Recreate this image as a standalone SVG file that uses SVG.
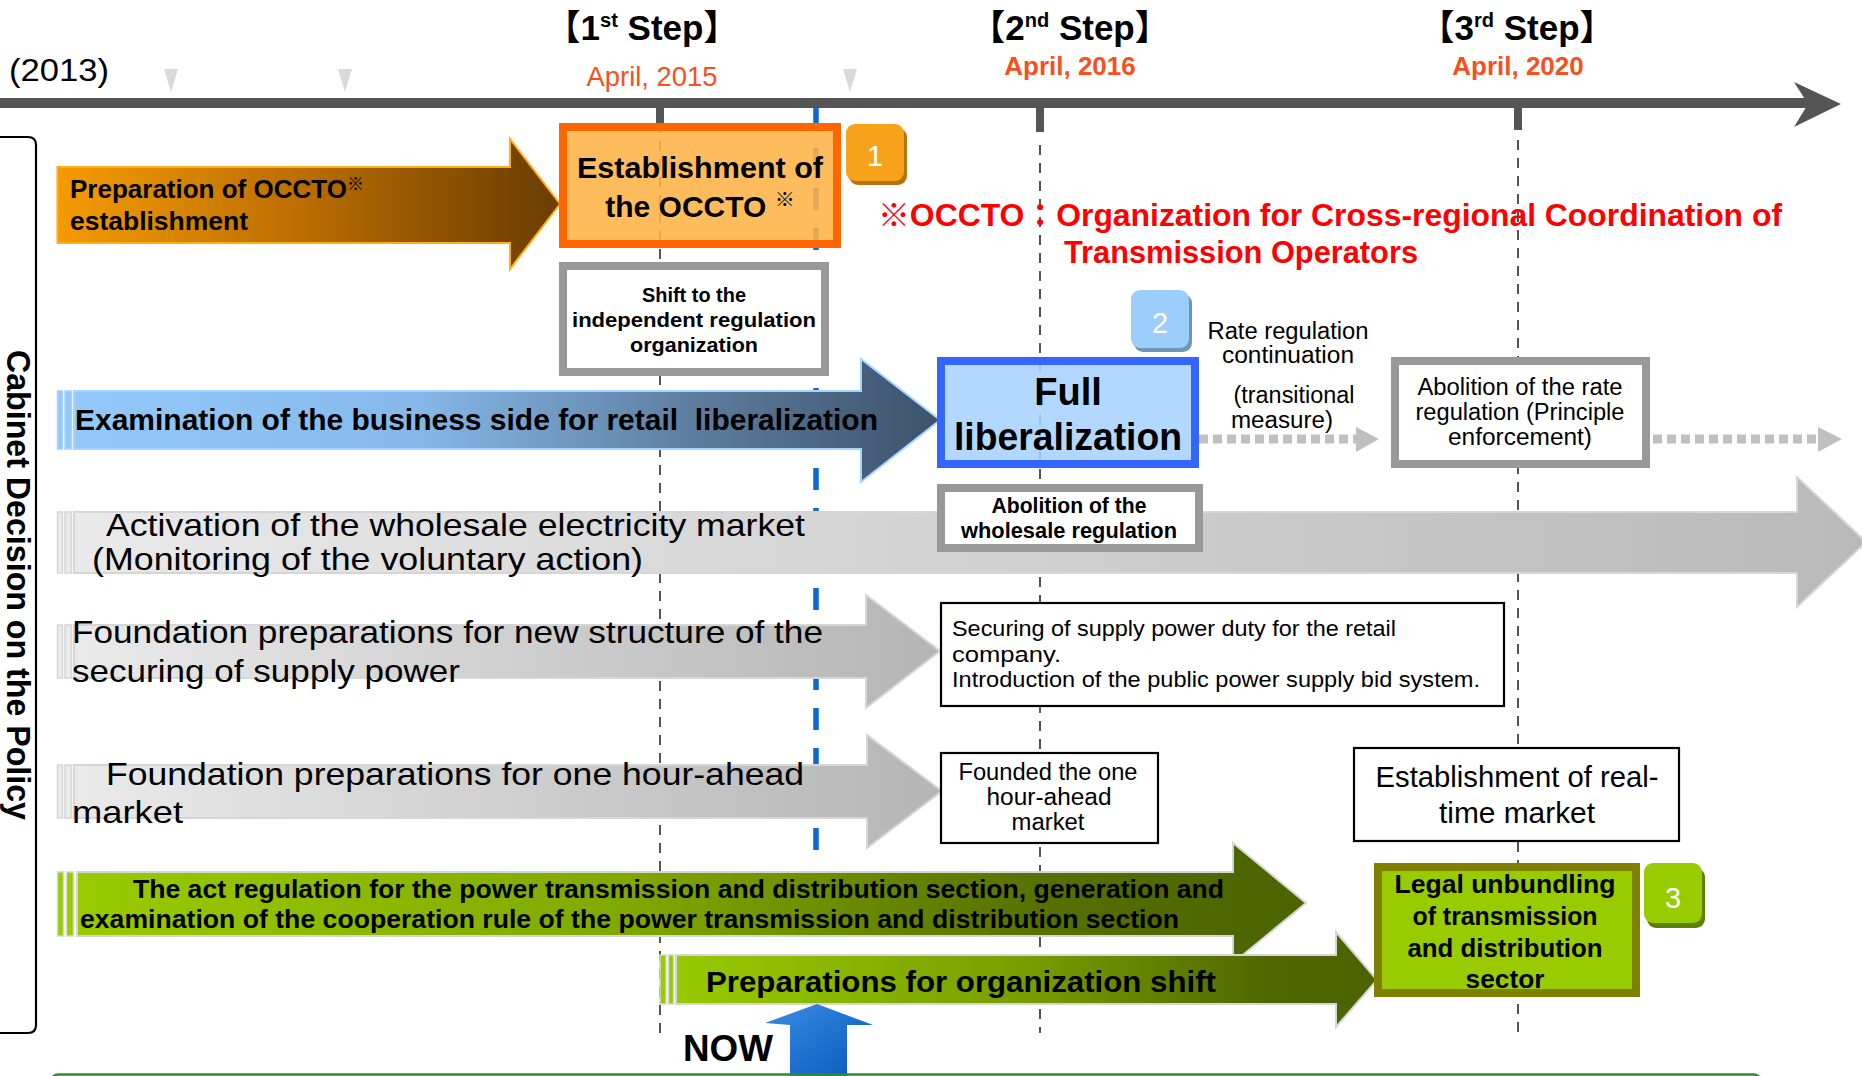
<svg xmlns="http://www.w3.org/2000/svg" width="1862" height="1076" viewBox="0 0 1862 1076">
<defs>
<linearGradient id="gOrange" gradientUnits="userSpaceOnUse" x1="57" y1="0" x2="560" y2="0">
<stop offset="0" stop-color="#f59b00"/><stop offset="0.5" stop-color="#b96c00"/><stop offset="0.88" stop-color="#7a4700"/><stop offset="1" stop-color="#6b3f00"/>
</linearGradient>
<linearGradient id="gBlue" gradientUnits="userSpaceOnUse" x1="57" y1="0" x2="940" y2="0">
<stop offset="0" stop-color="#93cafa"/><stop offset="0.4" stop-color="#86b9ea"/><stop offset="0.75" stop-color="#5a7898"/><stop offset="1" stop-color="#3c526b"/>
</linearGradient>
<linearGradient id="gGrayL" gradientUnits="userSpaceOnUse" x1="57" y1="0" x2="1866" y2="0">
<stop offset="0" stop-color="#eaeaea"/><stop offset="1" stop-color="#b9b9b9"/>
</linearGradient>
<linearGradient id="gGray" gradientUnits="userSpaceOnUse" x1="57" y1="0" x2="940" y2="0">
<stop offset="0" stop-color="#ebebeb"/><stop offset="1" stop-color="#b5b5b5"/>
</linearGradient>
<linearGradient id="gGreen1" gradientUnits="userSpaceOnUse" x1="57" y1="0" x2="1306" y2="0">
<stop offset="0" stop-color="#99cc00"/><stop offset="0.45" stop-color="#80a900"/><stop offset="0.8" stop-color="#556f00"/><stop offset="1" stop-color="#4b6300"/>
</linearGradient>
<linearGradient id="gGreen2" gradientUnits="userSpaceOnUse" x1="660" y1="0" x2="1377" y2="0">
<stop offset="0" stop-color="#99cc00"/><stop offset="0.5" stop-color="#789f00"/><stop offset="0.85" stop-color="#4f6700"/><stop offset="1" stop-color="#4b6300"/>
</linearGradient>
<linearGradient id="gNow" x1="0" y1="0" x2="1" y2="1">
<stop offset="0" stop-color="#3a8de6"/><stop offset="1" stop-color="#0757b8"/>
</linearGradient>
</defs>
<style>
text{font-family:"Liberation Sans","Noto Sans CJK JP",sans-serif;fill:#000}
.b{font-weight:bold}
.c{text-anchor:middle}
.guide{stroke:#555;stroke-width:2;stroke-dasharray:10 8;fill:none}
.nowline{stroke:#0f68cf;stroke-width:5.5;stroke-dasharray:22 18;fill:none}
.dot{stroke:#c0c0c0;stroke-width:9;stroke-dasharray:9 5;fill:none}
.dothead{fill:#c0c0c0}
.gbox{fill:#fff;stroke:#999;stroke-width:8}
.kbox{fill:#fff;stroke:#000;stroke-width:2.2}
.red{fill:#f4511e}
.tick{fill:#555}
.tri{fill:#d9d9d9}
.badgeT{fill:#fff;font-size:29px;text-anchor:middle}
</style>

<g id="timeline">
<rect x="0" y="98" width="1810" height="10" fill="#555"/>
<polygon points="1794,82 1841,104 1794,127 1808,104" fill="#555"/>
<rect class="tick" x="656" y="106" width="8" height="17"/>
<rect class="tick" x="1036" y="106" width="8" height="26"/>
<rect class="tick" x="1514" y="106" width="8" height="24"/>
<polygon class="tri" points="164,69 178,69 171,92"/>
<polygon class="tri" points="338,69 352,69 345,92"/>
<polygon class="tri" points="843,69 857,69 850,92"/>
<text x="9" y="81" font-size="31" fill="#222" textLength="100" lengthAdjust="spacingAndGlyphs">(2013)</text>
<text class="b c" x="642" y="40" font-size="35">【1<tspan font-size="20" dy="-13">st</tspan><tspan dy="13"> Step】</tspan></text>
<text class="b c" x="1070" y="40" font-size="35">【2<tspan font-size="20" dy="-13">nd</tspan><tspan dy="13"> Step】</tspan></text>
<text class="b c" x="1517" y="40" font-size="35">【3<tspan font-size="20" dy="-13">rd</tspan><tspan dy="13"> Step】</tspan></text>
<text class="c red" x="652" y="86" font-size="27" textLength="131" lengthAdjust="spacingAndGlyphs">April, 2015</text>
<text class="b c red" x="1070" y="75" font-size="26">April, 2016</text>
<text class="b c red" x="1518" y="75" font-size="26">April, 2020</text>
</g>

<g id="policy-bracket">
<path d="M0,137 H28 Q36,137 36,145 V1025 Q36,1033 28,1033 H0" fill="none" stroke="#000" stroke-width="2.2"/>
<text class="b" font-size="34" transform="translate(7,350) rotate(90)" textLength="470" lengthAdjust="spacingAndGlyphs">Cabinet Decision on the Policy</text>
</g>

<g id="connectors">
<line class="guide" x1="660" y1="123" x2="660" y2="1033"/>
<line class="guide" x1="1040" y1="145" x2="1040" y2="1033"/>
<line class="guide" x1="1518" y1="140" x2="1518" y2="1033"/>
<line class="nowline" x1="816" y1="108" x2="816" y2="853"/>
<line class="dot" x1="1199" y1="439" x2="1356" y2="439"/>
<polygon class="dothead" points="1356,427 1379,439 1356,452"/>
<line class="dot" x1="1653" y1="439" x2="1818" y2="439"/>
<polygon class="dothead" points="1818,427 1842,439 1818,452"/>
</g>

<g id="prep-occto">
<path d="M57.5,167 H510 V139 L560,204 L510,269 V243 H57.5 Z" fill="url(#gOrange)" stroke="#ffae1a" stroke-width="2"/>
<text class="b" x="70" y="198" font-size="26">Preparation of OCCTO<tspan font-size="17" dy="-8">※</tspan></text>
<text class="b" x="70" y="230" font-size="26" textLength="178" lengthAdjust="spacingAndGlyphs">establishment</text>
</g>

<g id="occto-box">
<rect x="563" y="127" width="274" height="117" fill="#ffb347" fill-opacity="0.88" stroke="#ff6600" stroke-width="8"/>
<text class="b c" x="700" y="178" font-size="30" textLength="246" lengthAdjust="spacingAndGlyphs">Establishment of</text>
<text class="b c" x="700" y="217" font-size="30">the OCCTO <tspan font-size="20" dy="-10">※</tspan></text>
</g>

<g id="badge1">
<rect x="849" y="128" width="58" height="57" rx="9" fill="#b8730c"/>
<rect x="846" y="124" width="58" height="57" rx="9" fill="#f7a21b"/>
<text class="badgeT" x="875" y="166">1</text>
</g>

<g id="occto-note">
<text class="b" x="878" y="226" font-size="31" style="fill:#ff0000" textLength="904" lengthAdjust="spacingAndGlyphs">※OCCTO：Organization for Cross-regional Coordination of</text>
<text class="b" x="1064" y="263" font-size="31" style="fill:#ff0000" textLength="354" lengthAdjust="spacingAndGlyphs">Transmission Operators</text>
</g>

<g id="shift-box">
<rect class="gbox" x="563" y="266" width="262" height="106"/>
<text class="b c" x="694" y="302" font-size="21" textLength="104" lengthAdjust="spacingAndGlyphs">Shift to the</text>
<text class="b c" x="694" y="327" font-size="21" textLength="244" lengthAdjust="spacingAndGlyphs">independent regulation</text>
<text class="b c" x="694" y="352" font-size="21" textLength="128" lengthAdjust="spacingAndGlyphs">organization</text>
</g>

<g id="retail-arrow">
<rect x="57.5" y="391" width="5" height="58" fill="url(#gBlue)" stroke="#a6d3ff" stroke-width="1.5"/>
<rect x="65" y="391" width="6.5" height="58" fill="url(#gBlue)" stroke="#a6d3ff" stroke-width="1.5"/>
<path d="M74,391 H861 V359 L940,420 L861,482 V449 H74 Z" fill="url(#gBlue)" stroke="#a6d3ff" stroke-width="2"/>
<text class="b" x="75" y="430" font-size="30" xml:space="preserve" textLength="803" lengthAdjust="spacingAndGlyphs">Examination of the business side for retail  liberalization</text>
</g>

<g id="full-lib">
<rect x="941" y="361" width="254" height="103" fill="#a9d3ff" fill-opacity="0.88" stroke="#3366ff" stroke-width="8"/>
<text class="b c" x="1068" y="405" font-size="38">Full</text>
<text class="b c" x="1068" y="450" font-size="38" textLength="228" lengthAdjust="spacingAndGlyphs">liberalization</text>
</g>

<g id="badge2">
<rect x="1134" y="294" width="58" height="58" rx="9" fill="#6f95bb"/>
<rect x="1131" y="290" width="58" height="58" rx="9" fill="#9dcdfb"/>
<text class="badgeT" x="1160" y="333">2</text>
</g>

<g id="rate-cont">
<text class="c" x="1288" y="339" font-size="23" textLength="161" lengthAdjust="spacingAndGlyphs">Rate regulation</text>
<text class="c" x="1288" y="363" font-size="23" textLength="132" lengthAdjust="spacingAndGlyphs">continuation</text>
<text class="c" x="1294" y="403" font-size="23" textLength="121" lengthAdjust="spacingAndGlyphs">(transitional</text>
<text class="c" x="1282" y="428" font-size="23" textLength="102" lengthAdjust="spacingAndGlyphs">measure)</text>
</g>

<g id="rate-abolition">
<rect class="gbox" x="1395" y="361" width="251" height="103"/>
<text class="c" x="1520" y="395" font-size="23" textLength="205" lengthAdjust="spacingAndGlyphs">Abolition of the rate</text>
<text class="c" x="1520" y="420" font-size="23" textLength="209" lengthAdjust="spacingAndGlyphs">regulation (Principle</text>
<text class="c" x="1520" y="445" font-size="23" textLength="144" lengthAdjust="spacingAndGlyphs">enforcement)</text>
</g>

<g id="wholesale-arrow">
<rect x="57.5" y="512" width="5" height="61" fill="url(#gGrayL)" stroke="#d6d6d6" stroke-width="1.5"/>
<rect x="65" y="512" width="6.5" height="61" fill="url(#gGrayL)" stroke="#d6d6d6" stroke-width="1.5"/>
<path d="M74,512 H1797 V477 L1866,542 L1797,607 V573 H74 Z" fill="url(#gGrayL)" stroke="#d6d6d6" stroke-width="2"/>
<text x="106" y="536" font-size="32" fill="#222" textLength="699" lengthAdjust="spacingAndGlyphs">Activation of the wholesale electricity market</text>
<text x="92" y="570" font-size="32" fill="#222" textLength="551" lengthAdjust="spacingAndGlyphs">(Monitoring of the voluntary action)</text>
</g>

<g id="wholesale-abolition">
<rect class="gbox" x="941" y="488" width="258" height="60"/>
<text class="b c" x="1069" y="513" font-size="21.5" textLength="155" lengthAdjust="spacingAndGlyphs">Abolition of the</text>
<text class="b c" x="1069" y="538" font-size="21.5" textLength="216" lengthAdjust="spacingAndGlyphs">wholesale regulation</text>
</g>

<g id="supply-arrow">
<rect x="57.5" y="625" width="5" height="53" fill="url(#gGray)" stroke="#d6d6d6" stroke-width="1.5"/>
<rect x="65" y="625" width="6.5" height="53" fill="url(#gGray)" stroke="#d6d6d6" stroke-width="1.5"/>
<path d="M74,625 H866 V595 L940,651 L866,708 V678 H74 Z" fill="url(#gGray)" stroke="#d6d6d6" stroke-width="2"/>
<text x="72" y="643" font-size="32" fill="#222" textLength="751" lengthAdjust="spacingAndGlyphs">Foundation preparations for new structure of the</text>
<text x="72" y="682" font-size="32" fill="#222" textLength="388" lengthAdjust="spacingAndGlyphs">securing of supply power</text>
</g>

<g id="supply-duty">
<rect class="kbox" x="941" y="603" width="563" height="103"/>
<text x="952" y="636" font-size="22" fill="#222" textLength="444" lengthAdjust="spacingAndGlyphs">Securing of supply power duty for the retail</text>
<text x="952" y="662" font-size="22" fill="#222" textLength="109" lengthAdjust="spacingAndGlyphs">company.</text>
<text x="952" y="687" font-size="22" fill="#222" textLength="528" lengthAdjust="spacingAndGlyphs">Introduction of the public power supply bid system.</text>
</g>

<g id="hour-arrow">
<rect x="57.5" y="765" width="5" height="53" fill="url(#gGray)" stroke="#d6d6d6" stroke-width="1.5"/>
<rect x="65" y="765" width="6.5" height="53" fill="url(#gGray)" stroke="#d6d6d6" stroke-width="1.5"/>
<path d="M74,765 H867 V735 L942,791 L867,848 V818 H74 Z" fill="url(#gGray)" stroke="#d6d6d6" stroke-width="2"/>
<text x="106" y="785" font-size="32" fill="#222" textLength="698" lengthAdjust="spacingAndGlyphs">Foundation preparations for one hour-ahead</text>
<text x="72" y="823" font-size="32" fill="#222" textLength="111" lengthAdjust="spacingAndGlyphs">market</text>
</g>

<g id="hour-market">
<rect class="kbox" x="941" y="753" width="217" height="90"/>
<text class="c" x="1048" y="780" font-size="23" fill="#222" textLength="179" lengthAdjust="spacingAndGlyphs">Founded the one</text>
<text class="c" x="1049" y="805" font-size="23" fill="#222" textLength="125" lengthAdjust="spacingAndGlyphs">hour-ahead</text>
<text class="c" x="1048" y="830" font-size="23" fill="#222" textLength="73" lengthAdjust="spacingAndGlyphs">market</text>
</g>

<g id="realtime-market">
<rect class="kbox" x="1354" y="748" width="325" height="93"/>
<text class="c" x="1517" y="787" font-size="29" textLength="283" lengthAdjust="spacingAndGlyphs">Establishment of real-</text>
<text class="c" x="1517" y="823" font-size="29" textLength="156" lengthAdjust="spacingAndGlyphs">time market</text>
</g>

<g id="act-arrow">
<rect x="57.5" y="872" width="6" height="64" fill="url(#gGreen1)" stroke="#d6d6d6" stroke-width="1.5"/>
<rect x="66.5" y="872" width="7" height="64" fill="url(#gGreen1)" stroke="#d6d6d6" stroke-width="1.5"/>
<path d="M77,872 H1233 V843 L1306,903 L1233,963 V936 H77 Z" fill="url(#gGreen1)" stroke="#d6d6d6" stroke-width="2"/>
<text class="b" x="133" y="898" font-size="26" textLength="1091" lengthAdjust="spacingAndGlyphs">The act regulation for the power transmission and distribution section, generation and</text>
<text class="b" x="80" y="928" font-size="26" textLength="1099" lengthAdjust="spacingAndGlyphs">examination of the cooperation rule of the power transmission and distribution section</text>
</g>

<g id="org-shift-arrow">
<rect x="660" y="955" width="6" height="49" fill="url(#gGreen2)" stroke="#d6d6d6" stroke-width="1.5"/>
<rect x="668.5" y="955" width="5" height="49" fill="url(#gGreen2)" stroke="#d6d6d6" stroke-width="1.5"/>
<path d="M676,955 H1336 V932 L1377,980 L1336,1027 V1004 H676 Z" fill="url(#gGreen2)" stroke="#d6d6d6" stroke-width="2"/>
<text class="b" x="706" y="992" font-size="30" textLength="510" lengthAdjust="spacingAndGlyphs">Preparations for organization shift</text>
</g>

<g id="legal-unbundling">
<rect x="1378" y="867" width="258" height="126" fill="#99cc00" stroke="#808000" stroke-width="8"/>
<text class="b c" x="1505" y="893" font-size="26" textLength="221" lengthAdjust="spacingAndGlyphs">Legal unbundling</text>
<text class="b c" x="1505" y="925" font-size="26" textLength="185" lengthAdjust="spacingAndGlyphs">of transmission</text>
<text class="b c" x="1505" y="957" font-size="26" textLength="195" lengthAdjust="spacingAndGlyphs">and distribution</text>
<text class="b c" x="1505" y="988" font-size="26" textLength="79" lengthAdjust="spacingAndGlyphs">sector</text>
</g>

<g id="badge3">
<rect x="1647" y="868" width="58" height="60" rx="9" fill="#5f7f00"/>
<rect x="1644" y="863" width="58" height="60" rx="9" fill="#99cc00"/>
<text class="badgeT" x="1673" y="908">3</text>
</g>

<g id="now-marker">
<polygon points="817,1004 873,1025 847,1025 847,1080 790,1080 790,1025 765,1023" fill="url(#gNow)"/>
<text class="b" x="683" y="1061" font-size="36" textLength="90" lengthAdjust="spacingAndGlyphs">NOW</text>
</g>

<g id="bottom-frame">
<rect x="52" y="1074.5" width="1708" height="30" rx="6" fill="none" stroke="#2e8b2e" stroke-width="2.5"/>
</g>
</svg>
